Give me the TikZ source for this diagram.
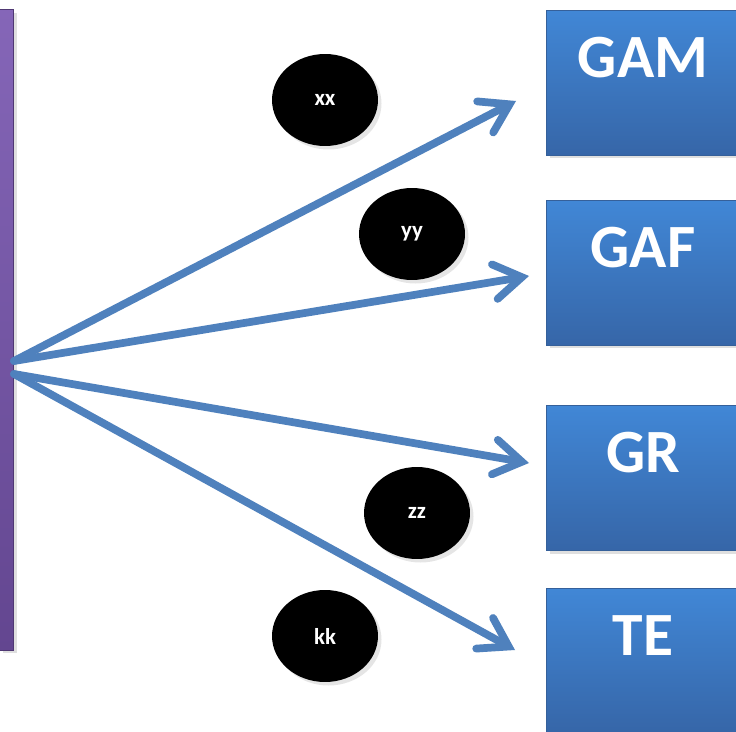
\documentclass[tikz,border=0pt]{standalone}
\usepackage{fontspec}
\setmainfont{Carlito}
\usetikzlibrary{arrows.meta,shapes.geometric,positioning,shadows}
\definecolor{bartop}{HTML}{8566B8}
\definecolor{barbot}{HTML}{634690}
\definecolor{boxtop}{HTML}{4187D6}
\definecolor{boxbot}{HTML}{3666A8}
\definecolor{boxedge}{HTML}{35609A}
\definecolor{flowblue}{HTML}{4F81BD}

\tikzset{
  bar/.style={rectangle, minimum width=0.27cm, minimum height=12.82cm, inner sep=0pt,
    top color=bartop, bottom color=barbot, draw=barbot!80!black, line width=0.4pt,
    drop shadow={opacity=0.25, shadow xshift=2pt, shadow yshift=-2pt}},
  box/.style={rectangle, minimum width=3.88cm, minimum height=2.9cm, inner sep=0pt,
    top color=boxtop, bottom color=boxbot, draw=boxedge, line width=0.4pt,
    drop shadow={opacity=0.25, shadow xshift=2pt, shadow yshift=-2pt}},
  boxtext/.style={text=white, font=\fontsize{35}{40}\selectfont\bfseries, inner sep=0pt},
  blob/.style={ellipse, fill=black, minimum width=2.12cm, minimum height=1.84cm, inner sep=0pt,
    text=white, font=\fontsize{13}{15}\selectfont\bfseries,
    drop shadow={opacity=0.2, shadow xshift=2pt, shadow yshift=-2pt}},
  flow/.style={draw=flowblue, line width=4.4pt, line cap=round,
    -{Straight Barb[length=5.5mm, width=7mm, line cap=round, line join=miter]}}
}

\begin{document}
\begin{tikzpicture}[x=0.02cm, y=-0.02cm]

	\clip (0,0) rectangle (736,732);
	\fill[white] (0,0) rectangle (736,732);

	% Barra
	\node[bar] (src) at (6.5,329.5) {};

	% Riquadri
	\foreach \name/\y/\label in {gam/82.5/GAM, gaf/272.5/GAF, gr/477.5/GR, te/660.5/TE} {
		\node[box] (\name) at (643,\y) {};
		\node[boxtext, anchor=base] (\name txt) at ([yshift=-1.36cm]\name.north) {\label};
	}

	% Ellissi
	\foreach \name/\x/\y in {xx/325/100, yy/412/234, zz/417/513, kk/325/636} {
		\node[blob] (\name) at (\x,\y) {\name};
	}

	% Frecce
	\coordinate (forkup) at (14,361);
	\coordinate (forkdn) at (14,374);
	\coordinate (tgam) at (516,101);
	\coordinate (tgaf) at (529,276);
	\coordinate (tgr) at (529,463);
	\coordinate (tte) at (515,650);
	\draw[flow] (forkup) -- (tgam);
	\draw[flow] (forkup) -- (tgaf);
	\draw[flow] (forkdn) -- (tgr);
	\draw[flow] (forkdn) -- (tte);

\end{tikzpicture}
\end{document}
